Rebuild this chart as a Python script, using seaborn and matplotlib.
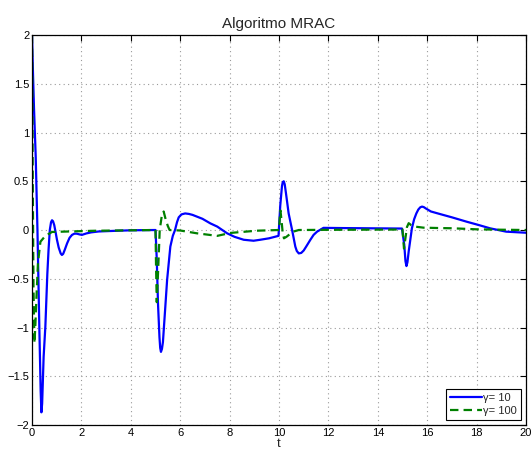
import matplotlib
matplotlib.use("Agg")
import matplotlib.pyplot as plt
import numpy as np
import pandas as pd
import seaborn as sns

# Error response of the MRAC loop for two adaptation gains
t_g10 = [0.0, 0.04, 0.08, 0.15, 0.22, 0.30, 0.35, 0.38, 0.41, 0.47, 0.54, 0.58,
         0.62, 0.67, 0.72, 0.77, 0.81, 0.85, 0.9, 0.96, 1.01, 1.08, 1.16, 1.21,
         1.26, 1.33, 1.42, 1.52, 1.62, 1.72, 1.82, 1.92, 2.02, 2.2, 2.4, 2.7, 3.2,
         4.0, 5.0,
         5.05, 5.1, 5.16, 5.19, 5.22, 5.26, 5.3, 5.38, 5.47, 5.6, 5.7, 5.79, 5.87,
         5.94, 6.05, 6.2, 6.35, 6.5, 6.9, 7.22, 7.5, 7.9, 8.2, 8.57, 8.97, 9.24,
         9.6, 9.98,
         10.05, 10.12, 10.15, 10.19, 10.23, 10.28, 10.39, 10.53, 10.66, 10.72,
         10.8, 10.9, 11.0, 11.1, 11.27, 11.4, 11.54, 11.8, 12.5, 13.5, 14.98,
         15.07, 15.12, 15.16, 15.2, 15.25, 15.38, 15.47, 15.56, 15.64, 15.72,
         15.79, 15.86, 15.95, 16.15, 16.5, 17.0, 17.6, 18.1, 18.55, 19.2, 20.0]
e_g10 = [2.0, 1.6, 1.25, 0.75, 0.0, -1.05, -1.65, -1.87, -1.78, -1.3, -0.99,
         -0.72, -0.45, -0.2, 0.0, 0.08, 0.10, 0.09, 0.05, -0.03, -0.10, -0.18,
         -0.24, -0.256, -0.245, -0.2, -0.137, -0.08, -0.05, -0.037, -0.038,
         -0.045, -0.05, -0.035, -0.024, -0.015, -0.01,
         -0.003, 0.0,
         -0.3, -0.75, -1.1, -1.21, -1.25, -1.22, -1.15, -0.85, -0.51, -0.17,
         -0.06, 0.0, 0.08, 0.13, 0.16, 0.17, 0.165, 0.155, 0.115, 0.068, 0.035,
         -0.034, -0.07, -0.10, -0.11, -0.10, -0.085, -0.06,
         0.25, 0.45, 0.49, 0.50, 0.47, 0.38, 0.17, 0.0, -0.17, -0.215, -0.24,
         -0.235, -0.21, -0.17, -0.10, -0.05, -0.017, 0.022, 0.02, 0.018, 0.015,
         -0.15, -0.32, -0.37, -0.33, -0.22, 0.017, 0.11, 0.17, 0.21, 0.233,
         0.24, 0.235, 0.22, 0.19, 0.165, 0.13, 0.085, 0.05, 0.017, -0.017, -0.028]

t_g100 = [0.0, 0.03, 0.06, 0.1, 0.14, 0.17, 0.24, 0.34, 0.44, 0.54, 0.81, 1.5,
          2.5, 4.0, 5.0,
          5.02, 5.05, 5.1, 5.17, 5.25, 5.33, 5.42, 5.5, 5.57, 6.0, 6.68, 7.5, 8.03,
          8.5, 9.1, 10.0,
          10.03, 10.06, 10.1, 10.15, 10.2, 10.3, 10.45, 10.6, 10.8, 12.0, 15.0,
          15.03, 15.06, 15.12, 15.18, 15.25, 15.35, 15.5, 15.85, 16.5, 17.0, 18.0,
          19.0, 20.0]
e_g100 = [2.0, 0.5, -0.6, -1.16, -0.95, -0.75, -0.34, -0.12, -0.09, -0.06, -0.02,
          -0.015, -0.008, -0.003, 0.0,
          -0.35, -0.74, -0.45, 0.0, 0.14, 0.19, 0.1, 0.04, 0.0, -0.005, -0.034, -0.06,
          -0.03, -0.02, -0.007, 0.0,
          0.12, 0.2, 0.1, -0.03, -0.085, -0.07, -0.04, -0.015, 0.0, 0.002, 0.005,
          -0.1, -0.19, -0.08, 0.03, 0.07, 0.05, 0.035, 0.024, 0.02, 0.018, 0.007,
          0.003, 0.0]

x_ticks = list(range(0, 21, 2))
y_ticks = [-2, -1.5, -1, -0.5, 0, 0.5, 1, 1.5, 2]

sns.set_style("white")
plt.rcParams["font.family"] = ["Liberation Sans", "DejaVu Sans"]

df10 = pd.DataFrame({"t": t_g10, "e": e_g10})
df100 = pd.DataFrame({"t": t_g100, "e": e_g100})

fig = plt.figure(figsize=(5.31, 4.57), dpi=100)
ax = fig.add_axes([0.0603, 0.0700, 0.9303, 0.8534])

sns.lineplot(data=df10, x="t", y="e", ax=ax, color=(0, 0, 1), lw=1.6,
             estimator=None, sort=False, label="γ= 10")
sns.lineplot(data=df100, x="t", y="e", ax=ax, color=(0, 0.5, 0), lw=1.6,
             estimator=None, sort=False, label="γ= 100", dashes=False)
ax.lines[1].set_dashes((3.8, 2.3))
for ln in ax.lines:
    ln.set_solid_joinstyle("round")
    ln.set_dash_joinstyle("round")

ax.set_xlim(0, 20)
ax.set_ylim(-2, 2)
ax.set_xticks(x_ticks)
ax.set_yticks(y_ticks)
ax.set_xticklabels([str(v) for v in x_ticks])
ax.set_yticklabels([("%g" % v).replace("-", "\u2212") for v in y_ticks])

ax.grid(True, color="#9a9a9a", linestyle=(0, (1, 3)), linewidth=0.8)
for s in ax.spines.values():
    s.set_visible(True)
    s.set_color("black")
    s.set_linewidth(0.9)
ax.tick_params(direction="in", length=4, width=0.8, top=True, right=True,
               labelsize=8, colors="black", pad=2)

ax.set_xlabel("t", fontsize=9.5, labelpad=0)
ax.set_ylabel("")
ax.set_title("Algoritmo MRAC", fontsize=11, pad=5)

leg = ax.legend(loc="lower right", fontsize=8, frameon=True, fancybox=False,
                edgecolor="black", framealpha=1, handlelength=2.9,
                handletextpad=0.1, borderpad=0.35, labelspacing=0.25,
                borderaxespad=0.45)
leg.get_frame().set_linewidth(0.8)
leg.get_lines()[1].set_dashes((3.8, 2.3))

fig.savefig("out.png", dpi=100)
